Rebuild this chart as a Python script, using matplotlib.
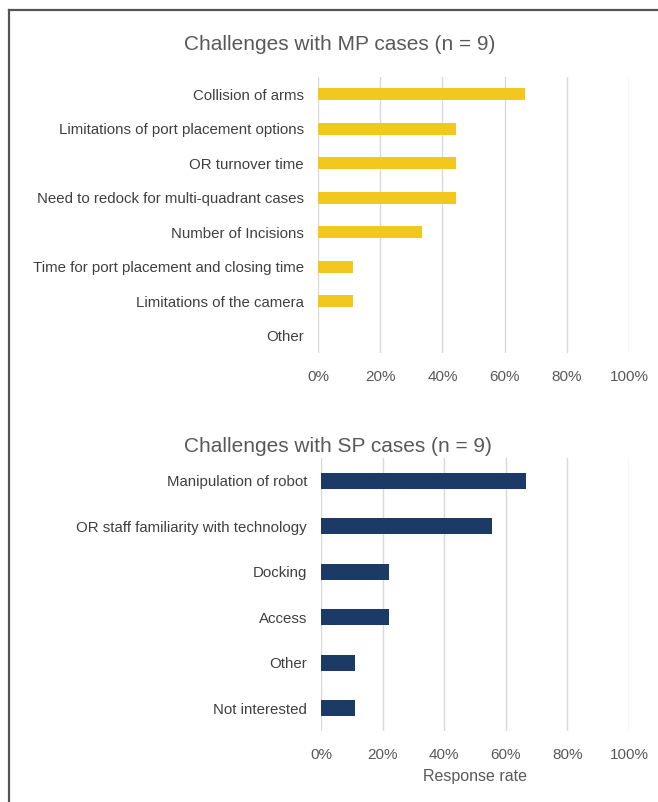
import matplotlib.pyplot as plt
from matplotlib.lines import Line2D

plt.rcParams['font.family'] = ['Liberation Sans', 'DejaVu Sans']

mp_labels = ['Collision of arms', 'Limitations of port placement options', 'OR turnover time',
             'Need to redock for multi-quadrant cases', 'Number of Incisions',
             'Time for port placement and closing time', 'Limitations of the camera', 'Other']
mp_values = [66.7, 44.4, 44.4, 44.4, 33.3, 11.1, 11.1, 0.0]

sp_labels = ['Manipulation of robot', 'OR staff familiarity with technology', 'Docking',
             'Access', 'Other', 'Not interested']
sp_values = [66.7, 55.6, 22.2, 22.2, 11.1, 11.1]

ticks = [0, 20, 40, 60, 80, 100]
tick_labels = ['0%', '20%', '40%', '60%', '80%', '100%']

W, H = 658, 802
fig = plt.figure(figsize=(W / 100, H / 100), dpi=100)
text_col = '#595959'


def style(ax, labels):
    ax.set_xlim(0, 100)
    ax.set_ylim(len(labels) - 0.5, -0.5)
    ax.set_xticks(ticks)
    ax.set_xticklabels(tick_labels, fontsize=11, color=text_col)
    ax.set_yticks(range(len(labels)))
    ax.set_yticklabels(labels, fontsize=10.8, color='#404040')
    ax.tick_params(length=0)
    ax.tick_params(axis='x', pad=12)
    ax.tick_params(axis='y', pad=10)
    for s in ax.spines.values():
        s.set_visible(False)
    ax.grid(axis='x', color='#d9d9d9', lw=1)
    ax.set_axisbelow(True)


# top chart
ax1 = fig.add_axes([318 / W, 1 - 353 / H, 311 / W, 276 / H])
ax1.barh(range(len(mp_labels)), mp_values, height=0.36, color='#F2C81E')
style(ax1, mp_labels)
fig.text(340 / W, 1 - 45 / H, 'Challenges with MP cases (n = 9)', ha='center', va='center',
         fontsize=15, color=text_col)

# bottom chart
ax2 = fig.add_axes([321 / W, 1 - 731 / H, 308 / W, 273 / H])
ax2.barh(range(len(sp_labels)), sp_values, height=0.36, color='#1C3A66')
style(ax2, sp_labels)
ax2.set_xlabel('Response rate', fontsize=11.5, color=text_col, labelpad=5)
fig.text(338 / W, 1 - 447 / H, 'Challenges with SP cases (n = 9)', ha='center', va='center',
         fontsize=15, color=text_col)

# outer frame (left and top edges)
fig.add_artist(Line2D([9 / W, 9 / W], [0, 1 - 10 / H], color='#555555', lw=1.6))
fig.add_artist(Line2D([9 / W, 1], [1 - 10 / H, 1 - 10 / H], color='#555555', lw=1.6))

fig.savefig('out.png', dpi=100)
